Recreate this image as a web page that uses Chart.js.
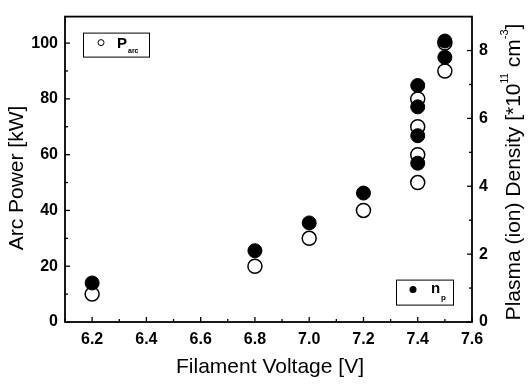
<!DOCTYPE html>
<html>
<head>
<meta charset="utf-8">
<script src="https://cdn.jsdelivr.net/npm/chart.js@4"></script>
<style>
  body { margin: 0; background: #fff; }
  #wrap { width: 528px; height: 384px; }
</style>
</head>
<body>
<div id="wrap"><canvas id="chart"></canvas></div>
<script>
const xTicks = [6.2, 6.4, 6.6, 6.8, 7.0, 7.2, 7.4, 7.6];
const powerTicks = [0, 20, 40, 60, 80, 100];
const densityTicks = [0, 2, 4, 6, 8];

// open circles: arc power (left axis)
const powerVolts = [6.2, 6.8, 7.0, 7.2, 7.4, 7.4, 7.4, 7.4, 7.5, 7.5];
const arcPower = [10, 20, 30, 40, 50, 60, 70, 80, 90, 100];

// filled circles: plasma density (right axis)
const densityVolts = [6.2, 6.8, 7.0, 7.2, 7.4, 7.4, 7.4, 7.4, 7.5, 7.5];
const density = [1.15, 2.1, 2.92, 3.8, 4.68, 5.49, 6.34, 6.97, 7.8, 8.28];

const FONT = '"Liberation Sans", Arial, sans-serif';

const decor = {
  id: 'decor',
  afterDatasetsDraw(chart) {
    const { ctx, chartArea: a, scales } = chart;
    ctx.save();
    ctx.strokeStyle = '#000';
    ctx.fillStyle = '#000';

    // frame
    ctx.lineWidth = 1.8;
    ctx.strokeRect(a.left, a.top, a.right - a.left, a.bottom - a.top);

    // inward ticks
    ctx.lineWidth = 1.3;
    const tick = (x1, y1, x2, y2) => { ctx.beginPath(); ctx.moveTo(x1, y1); ctx.lineTo(x2, y2); ctx.stroke(); };
    xTicks.forEach(v => {
      const x = scales.x.getPixelForValue(v);
      tick(x, a.bottom, x, a.bottom - 5);
      const xm = scales.x.getPixelForValue(v - 0.1);
      if (xm > a.left) tick(xm, a.bottom, xm, a.bottom - 3);
    });
    powerTicks.forEach(v => {
      const y = scales.y.getPixelForValue(v);
      tick(a.left, y, a.left + 5, y);
      const ym = scales.y.getPixelForValue(v + 10);
      if (ym > a.top) tick(a.left, ym, a.left + 3, ym);
    });
    densityTicks.forEach(v => {
      const y = scales.y2.getPixelForValue(v);
      tick(a.right, y, a.right - 5, y);
      const ym = scales.y2.getPixelForValue(v + 1);
      if (ym > a.top) tick(a.right, ym, a.right - 3, ym);
    });

    // legend boxes
    ctx.lineWidth = 1;
    ctx.strokeRect(a.left + 18.5, a.top + 16.5, 66, 24);
    ctx.beginPath();
    ctx.arc(a.left + 36, a.top + 26, 3, 0, Math.PI * 2);
    ctx.stroke();
    ctx.textBaseline = 'middle';
    ctx.textAlign = 'left';
    ctx.font = 'bold 15px ' + FONT;
    ctx.fillText('P', a.left + 52, a.top + 27);
    ctx.font = 'bold 7px ' + FONT;
    ctx.fillText('arc', a.left + 63, a.top + 34);

    ctx.strokeRect(a.left + 331.5, a.top + 263.5, 57, 25);
    ctx.beginPath();
    ctx.arc(a.left + 348, a.top + 273, 3.5, 0, Math.PI * 2);
    ctx.fill();
    ctx.font = 'bold 15px ' + FONT;
    ctx.fillText('n', a.left + 366, a.top + 272);
    ctx.font = 'bold 8px ' + FONT;
    ctx.fillText('p', a.left + 376, a.top + 281);

    // axis titles
    ctx.textAlign = 'center';
    ctx.font = '21px ' + FONT;
    ctx.fillText('Filament Voltage [V]', 270, 367);

    ctx.save();
    ctx.translate(17, 178);
    ctx.rotate(-Math.PI / 2);
    ctx.fillText('Arc Power [kW]', 0, 0);
    ctx.restore();

    // right title with superscripts
    const parts = [
      ['Plasma (ion) Density [*10', 21, 0],
      ['11', 10, -9],
      [' cm', 21, 0],
      ['-3', 11, -9],
      [']', 21, 0]
    ];
    let total = 0;
    parts.forEach(p => { ctx.font = p[1] + 'px ' + FONT; p.push(ctx.measureText(p[0]).width); total += p[3]; });
    ctx.save();
    ctx.translate(514, 172);
    ctx.rotate(-Math.PI / 2);
    ctx.textAlign = 'left';
    let x = -total / 2;
    parts.forEach(p => {
      ctx.font = p[1] + 'px ' + FONT;
      ctx.fillText(p[0], x, p[2]);
      x += p[3];
    });
    ctx.restore();

    ctx.restore();
  }
};

const tickFont = { family: FONT, size: 16, weight: 'bold' };

new Chart(document.getElementById('chart'), {
  type: 'scatter',
  data: {
    datasets: [
      {
        label: 'n_p',
        data: densityVolts.map((v, i) => ({ x: v, y: density[i] })),
        yAxisID: 'y2',
        order: 0,
        pointRadius: 7,
        pointBackgroundColor: '#000',
        pointBorderColor: '#000',
        pointBorderWidth: 1
      },
      {
        label: 'P_arc',
        data: powerVolts.map((v, i) => ({ x: v, y: arcPower[i] })),
        yAxisID: 'y',
        order: 1,
        pointRadius: 7,
        pointBackgroundColor: '#fff',
        pointBorderColor: '#000',
        pointBorderWidth: 1.5
      }
    ]
  },
  options: {
    responsive: true,
    maintainAspectRatio: false,
    animation: false,
    layout: { padding: { top: 15, left: 0, right: 0, bottom: 0 } },
    plugins: { legend: { display: false }, tooltip: { enabled: false } },
    scales: {
      x: {
        type: 'linear', position: 'bottom', min: 6.1, max: 7.6,
        afterBuildTicks: s => { s.ticks = xTicks.map(v => ({ value: v })); },
        afterFit: s => { s.height = 62; },
        grid: { display: false, drawTicks: false },
        border: { display: false },
        ticks: { color: '#000', font: tickFont, padding: 8, maxRotation: 0,
                 callback: v => v.toFixed(1) }
      },
      y: {
        position: 'left', min: 0, max: 109.5,
        afterBuildTicks: s => { s.ticks = powerTicks.map(v => ({ value: v })); },
        afterFit: s => { s.width = 65; },
        grid: { display: false, drawTicks: false },
        border: { display: false },
        ticks: { color: '#000', font: tickFont, padding: 7 }
      },
      y2: {
        position: 'right', min: 0, max: 9,
        afterBuildTicks: s => { s.ticks = densityTicks.map(v => ({ value: v })); },
        afterFit: s => { s.width = 56; },
        grid: { display: false, drawTicks: false },
        border: { display: false },
        ticks: { color: '#000', font: tickFont, padding: 7 }
      }
    }
  },
  plugins: [decor]
});
</script>
</body>
</html>
